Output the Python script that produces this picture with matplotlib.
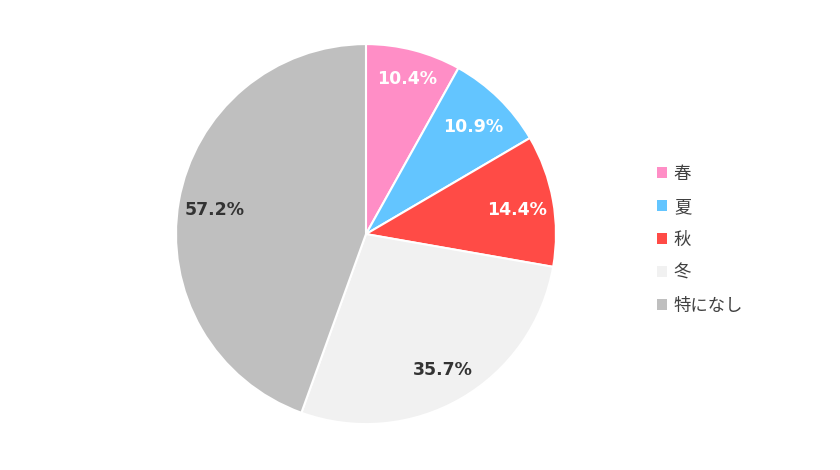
import numpy as np
import matplotlib.pyplot as plt
from matplotlib.patches import Patch

plt.rcParams['font.family'] = ['Noto Sans CJK JP', 'DejaVu Sans']

labels = ['春', '夏', '秋', '冬', '特になし']
values = [10.4, 10.9, 14.4, 35.7, 57.2]
colors = ['#FF8EC6', '#63C5FF', '#FF4B46', '#F1F1F1', '#BFBFBF']
text_colors = ['white', 'white', 'white', '#333333', '#333333']
label_radius = [0.86, 0.81, 0.81, 0.81, 0.81]

fig = plt.figure(figsize=(8.4, 4.7), dpi=100)
ax = fig.add_axes([0.2095, 0.0977, 0.4524, 0.8085])

wedges, texts = ax.pie(
    values, colors=colors, startangle=90, counterclock=False,
    wedgeprops=dict(edgecolor='white', linewidth=1.5),
)
for w, v, tc, r in zip(wedges, values, text_colors, label_radius):
    mid = np.deg2rad((w.theta1 + w.theta2) / 2)
    ax.text(r * np.cos(mid), r * np.sin(mid) - 0.015, f'{v:.1f}%',
            ha='center', va='center', color=tc, fontsize=12.5,
            fontweight='bold', family='DejaVu Sans')

ax.set_xlim(-1, 1)
ax.set_ylim(-1, 1)
ax.set_aspect('equal')
ax.axis('off')

handles = [Patch(facecolor=c, edgecolor='none') for c in colors]
leg = fig.legend(handles, labels, loc='center left', bbox_to_anchor=(0.763, 0.49),
                 frameon=False, fontsize=12.5, handlelength=0.6, handleheight=0.6,
                 labelspacing=0.86, handletextpad=0.4)
for t in leg.get_texts():
    t.set_color('#404040')

fig.savefig('out.png', dpi=100)
